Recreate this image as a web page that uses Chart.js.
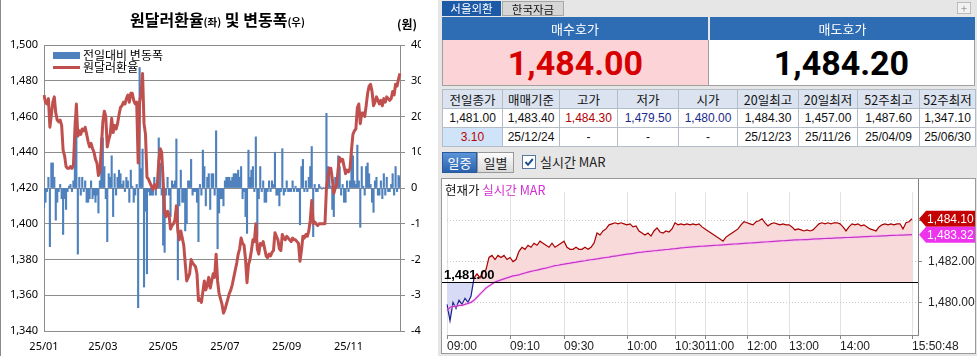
<!DOCTYPE html>
<html><head><meta charset="utf-8">
<script src="https://cdn.jsdelivr.net/npm/chart.js@4.4.1/dist/chart.umd.min.js"></script>
<style>
*{box-sizing:border-box}
body{margin:0;width:977px;height:356px;overflow:hidden;background:#fff;position:relative;font-family:'Noto Sans CJK KR','Noto Sans',sans-serif;color:#000}
.a{position:absolute}
#left{left:0;top:0;width:421px;height:356px;overflow:hidden;border-left:1px solid #8a8a8a}
#c1{position:absolute;left:-1px;top:0}
#rp{left:438px;top:0;width:539px;height:356px;background:#e6e6e6}
.tab{top:1px;height:15px;font-size:11.5px;line-height:15px;text-align:center}
.hd{top:17px;height:23px;background:#2e6cb4;color:#fff;font-size:13px;line-height:23px;text-align:center}
.pc{top:40px;height:46px;font-family:Roboto,'Liberation Sans',sans-serif;font-weight:bold;font-size:34px;line-height:46px;text-align:center;border:1px solid #a0a0a0;border-top:none}
table{border-collapse:collapse;table-layout:fixed;position:absolute;left:442px;top:89px;width:533px;background:#fff}
td{border:1px solid #b4bcc8;height:19px;padding:0;text-align:center;font-size:12px;line-height:17px;white-space:nowrap;overflow:hidden;font-family:'Liberation Sans','Noto Sans CJK KR',sans-serif;color:#111}
tr.h td{background:#dae3ef;font-family:'Noto Sans CJK KR',sans-serif;font-size:12.5px}
.btn{top:152px;height:21px;font-size:13px;line-height:20px;text-align:center}
</style></head><body>
<div id="left" class="a">
  <canvas id="c1" width="440" height="356"></canvas>
  <div class="a" style="left:129px;top:8px;font-size:16px;font-weight:bold;white-space:nowrap;line-height:22px">원달러환율<span style="font-size:10.5px">(좌)</span> 및 변동폭<span style="font-size:10.5px">(우)</span></div>
  <div class="a" style="left:396px;top:16px;font-size:12px;font-weight:bold;line-height:16px">(원)</div>
  <div class="a" style="left:52px;top:52px;width:27px;height:7px;background:#4f81bd"></div>
  <div class="a" style="left:82px;top:47px;font-size:12px;line-height:16px;white-space:nowrap">전일대비 변동폭</div>
  <div class="a" style="left:52px;top:66px;width:27px;height:3px;background:#c0504d"></div>
  <div class="a" style="left:82px;top:59px;font-size:12px;line-height:16px;white-space:nowrap">원달러환율</div>
</div>

<div id="rp" class="a"></div>
<div class="a tab" style="left:442px;width:59px;background:#1c5aa8;color:#fff">서울외환</div>
<div class="a tab" style="left:502px;width:62px;background:#d6d6d6;border:1px solid #a8a8a8;color:#111">한국자금</div>
<div class="a" style="left:957px;top:2px;width:14px;height:12px;border:1px solid #bbb;background:#f2f2f2;color:#999;font-size:11px;line-height:10px;text-align:center">+</div>
<div class="a hd" style="left:442px;width:266px">매수호가</div>
<div class="a hd" style="left:710px;width:265px">매도호가</div>
<div class="a pc" id="bid" style="left:442px;width:267px;background:#fcd3d6;color:#d60000"></div>
<div class="a pc" id="ask" style="left:708px;width:267px;background:#fff;color:#000"></div>
<table id="tbl">
<colgroup><col style="width:60px"><col style="width:57px"><col style="width:58px"><col style="width:61px"><col style="width:59px"><col style="width:61px"><col style="width:59px"><col style="width:62px"><col style="width:56px"></colgroup>
<tr class="h" id="thead"></tr>
<tr id="tval"></tr>
<tr id="tdate"></tr>
</table>
<div class="a btn" style="left:442px;width:35px;background:linear-gradient(#5b94d8,#2a62ae);color:#fff;border:1px solid #2a5a9a">일중</div>
<div class="a btn" style="left:477px;width:37px;background:linear-gradient(#fdfdfd,#d9d9d9);color:#222;border:1px solid #999">일별</div>
<div class="a" style="left:522px;top:155px;width:14px;height:14px;background:#fff;border:1px solid #56789e">
  <svg width="12" height="12" style="position:absolute;left:0;top:0"><path d="M2.5 6 L5 8.8 L9.8 3" stroke="#1f4f8f" stroke-width="2" fill="none"/></svg>
</div>
<div class="a" style="left:540px;top:152px;font-size:13px;line-height:20px;color:#222;white-space:nowrap">실시간 MAR</div>
<div class="a" style="left:441px;top:178px;width:535px;height:176px;background:#fff;border:1px solid #9a9a9a"></div>
<canvas id="c2" class="a" style="left:442px;top:179px" width="533" height="174"></canvas>
<div class="a" style="left:445px;top:181px;font-size:12.5px;line-height:17px;white-space:nowrap"><span style="color:#111">현재가</span> <span style="color:#d030d0">실시간 MAR</span></div>

<script>
// ---------- left chart data ----------
const leftTickIdx = [0, 40, 81, 123, 165, 207];
const leftTickText = ['25/01', '25/03', '25/05', '25/07', '25/09', '25/11'];
const rate = [
 1472,1468,1467,1470,1454,1461,1468,1471,1462,1458,
 1457,1458,1455,1441,1438,1432,1431,1431,1432,1431,
 1433,1452,1467,1449,1452,1450,1453,1452,1454,1450,
 1446,1443,1445,1442,1440,1436,1434,1427,1429,1443,
 1457,1463,1460,1443,1447,1450,1459,1451,1455,1453,
 1456,1461,1465,1466,1468,1467,1470,1472,1468,1473,
 1473,1469,1467,1468,1434,1468,1473,1484,1456,1450,
 1426,1425,1423,1421,1419,1422,1420,1421,1435,1442,
 1440,1424,1406,1404,1407,1405,1397,1399,1400,1402,
 1410,1396,1391,1396,1392,1388,1378,1368,1370,1372,
 1380,1378,1377,1376,1372,1357,1358,1356,1362,1368,
 1363,1366,1370,1364,1368,1372,1370,1383,1368,1361,
 1358,1355,1350,1352,1355,1358,1361,1363,1366,1370,
 1374,1378,1383,1386,1392,1389,1388,1380,1367,1377,
 1380,1385,1391,1390,1400,1386,1383,1389,1388,1390,
 1386,1382,1381,1383,1382,1384,1385,1395,1393,1391,
 1386,1385,1394,1392,1391,1393,1392,1391,1390,1392,
 1391,1391,1390,1389,1379,1385,1393,1392,1394,1393,
 1396,1402,1413,1400,1401,1400,1399,1400,1400,1400,
 1400,1400,1420,1426,1431,1431,1425,1417,1420,1422,
 1431,1437,1435,1436,1432,1428,1430,1429,1431,1441,
 1450,1452,1453,1465,1467,1456,1462,1462,1460,1466,
 1473,1477,1478,1474,1466,1468,1471,1469,1467,1469,
 1466,1470,1468,1471,1470,1469,1470,1474,1472,1478,
 1477,1481,1484.1];
const chg = [
 -5.5,-4,-1,3,-16.4,7,7,3,-9,-4,
 -1,1,-3,-13,-3,-6,-1,0.5,1,-1,
 2,19,15,-18.5,3,-2,3,-1,2,-4,
 -4,-3,2,-3,-2,-4,-2,-7,2,14,
 14,6,-3,-15,4,3,9,-8,4,-2,
 3,5,4,1,2,-1,3,2,-4,5,
 0.5,-4,-2,1,-33.5,33.7,5.4,10.9,-27.7,-6.5,
 -24,-1,-2,-2,-2,3,-2,1,14,7,
 -2,-16,-18,-2,3,-2,-8,2,1,2,
 13.7,-25.7,-5,5,-4,-4,-12,-10,2,2,
 8,-2,-1,-1,-4,-15,1,-2,10.6,6,
 -5,3,4,-6,4,4,-2,16,-17,-7,
 -3,-3,-5,2,3,3,3,2,3,4,
 4,4,5,3,6,-3,-1,-8,-12.7,10.6,
 3,5,6,-1,14.3,-13.6,-3,6,-1,2,
 -4,-4,-1,2,-1,2,1,10,-2,-2,
 -5,-1,11,-2,-1,2,-1,-1,-1,2,
 -1,0.5,-1,-1,-10.3,6,8,-1,2,-1,
 3,6,11.6,-13.6,1,-1,-1,1,0.3,-0.3,
 0.2,-0.2,20.9,6,5,0.5,-6,-8,3,2,
 9,6,-2,1,-4,-4,2,-1,2,10,
 9,2,1,12,2,-11,6,0.5,-2,6,
 7,4,1,-4,-6.8,2,3,-2,-2,2,
 -3,4,-2,3,-1,-1,1,4,-2,6,
 -1,3.5,3.1];
const leftLabels = rate.map((_, i) => i);

// ---------- right panel data ----------
const bidPrice = 1484.00, askPrice = 1484.20;
const tableHeads = ['전일종가','매매기준','고가','저가','시가','20일최고','20일최저','52주최고','52주최저'];
const tableVals  = ['1,481.00','1,483.40','1,484.30','1,479.50','1,480.00','1,484.30','1,457.00','1,487.60','1,347.10'];
const tableDates = ['3.10','25/12/24','-','-','-','25/12/23','25/11/26','25/04/09','25/06/30'];
const valColors  = ['#111','#111','#b00000','#1a2a8a','#1a2a8a','#111','#111','#111','#111'];

const intraTickIdx = [0, 21, 39, 60, 76, 86, 100, 114, 131, 155];
const intraTickText = ['09:00','09:10','09:30','10:00','10:30','11:00','12:00','13:00','14:00','15:50:48'];
const prevClose = 1481.00, lastPrice = 1484.10, lastMar = 1483.32;
const price = [
 1479.9,1479.1,1480.0,1479.7,1480.1,1479.9,1480.2,1480.0,1480.3,1481.2,
 1481.4,1481.2,1481.5,1481.6,1482.2,1482.3,1482.1,1482.3,1482.2,1482.3,
 1482.1,1482.2,1482.0,1482.1,1482.5,1482.7,1482.6,1482.8,1482.7,1482.9,
 1482.8,1483.0,1482.9,1482.8,1482.7,1482.9,1482.7,1482.8,1482.9,1483.0,
 1482.7,1482.6,1482.6,1482.7,1482.6,1482.6,1482.7,1482.6,1482.7,1482.9,
 1483.4,1483.3,1483.5,1483.6,1483.8,1483.85,1483.9,1483.85,1483.9,1483.85,
 1483.8,1483.85,1483.7,1483.75,1483.5,1483.4,1483.3,1483.4,1483.25,1483.5,
 1483.65,1483.45,1483.4,1483.5,1483.45,1483.6,1483.9,1483.8,1483.85,1483.8,
 1483.85,1483.8,1483.85,1483.8,1483.85,1483.7,1483.6,1483.5,1483.4,1483.3,
 1483.2,1483.1,1483.0,1483.2,1483.3,1483.4,1483.5,1483.6,1483.8,1483.95,
 1483.9,1483.85,1483.8,1483.95,1484.0,1484.1,1483.9,1483.75,1483.85,1483.9,
 1483.85,1483.8,1483.85,1483.8,1483.8,1483.7,1483.55,1483.6,1483.55,1483.5,
 1483.55,1483.5,1483.55,1483.7,1483.85,1483.9,1483.85,1483.9,1483.85,1483.9,
 1483.9,1483.85,1483.7,1483.5,1483.7,1483.85,1483.8,1483.85,1483.75,1483.8,
 1483.7,1483.6,1483.55,1483.5,1483.7,1483.8,1483.85,1483.8,1483.85,1483.8,
 1483.85,1483.85,1483.6,1483.9,1483.95,1484.1];
const mar = [
 1479.6,1479.75,1479.8,1479.8,1479.85,1479.85,1479.9,1479.95,1480.0,1480.1,
 1480.25,1480.4,1480.55,1480.7,1480.8,1480.9,1481.0,1481.05,1481.1,1481.15,
 1481.2,1481.25,1481.3,1481.32,1481.35,1481.4,1481.44,1481.48,1481.52,1481.55,
 1481.58,1481.62,1481.65,1481.68,1481.72,1481.76,1481.8,1481.82,1481.85,1481.87,
 1481.9,1481.92,1481.95,1481.97,1482.0,1482.02,1482.04,1482.07,1482.09,1482.11,
 1482.13,1482.16,1482.18,1482.2,1482.22,1482.25,1482.27,1482.29,1482.32,1482.34,
 1482.36,1482.38,1482.4,1482.43,1482.45,1482.46,1482.48,1482.5,1482.51,1482.53,
 1482.54,1482.56,1482.57,1482.59,1482.6,1482.62,1482.63,1482.65,1482.67,1482.68,
 1482.7,1482.71,1482.72,1482.73,1482.74,1482.75,1482.76,1482.77,1482.78,1482.79,
 1482.8,1482.81,1482.82,1482.83,1482.84,1482.85,1482.86,1482.87,1482.88,1482.89,
 1482.9,1482.91,1482.92,1482.93,1482.94,1482.95,1482.96,1482.97,1482.98,1482.99,
 1483.0,1483.01,1483.02,1483.03,1483.04,1483.05,1483.06,1483.06,1483.07,1483.08,
 1483.08,1483.09,1483.1,1483.11,1483.11,1483.12,1483.13,1483.14,1483.14,1483.15,
 1483.16,1483.16,1483.17,1483.18,1483.18,1483.19,1483.2,1483.2,1483.21,1483.22,
 1483.22,1483.23,1483.24,1483.24,1483.25,1483.26,1483.26,1483.27,1483.28,1483.28,
 1483.29,1483.3,1483.3,1483.31,1483.31,1483.32];
const intraLabels = Array.from({length: 158}, (_, i) => i);

const fmt2 = v => v.toLocaleString('en-US', {minimumFractionDigits: 2, maximumFractionDigits: 2});

// ---------- fill HTML panel ----------
document.getElementById('bid').textContent = fmt2(bidPrice);
document.getElementById('ask').textContent = fmt2(askPrice);
document.getElementById('thead').innerHTML = tableHeads.map(t => `<td>${t}</td>`).join('');
document.getElementById('tval').innerHTML = tableVals.map((t, i) => `<td style="color:${valColors[i]}">${t}</td>`).join('');
document.getElementById('tdate').innerHTML = tableDates.map((t, i) => i === 0 ? `<td style="background:#cfe4f8;color:#c00000">${t}</td>` : `<td>${t}</td>`).join('');

// ---------- left chart ----------
const GRAY = '#8c8c8c';
new Chart(document.getElementById('c1'), {
  type: 'bar',
  data: { labels: leftLabels, datasets: [
    { type: 'line', label: '원달러환율', data: rate, yAxisID: 'y', borderColor: '#c0504d', borderWidth: 3, pointRadius: 0, order: 0, borderJoinStyle: 'round' },
    { type: 'bar', label: '전일대비 변동폭', data: chg, yAxisID: 'y1', backgroundColor: '#4f81bd', barPercentage: 1, categoryPercentage: 1, order: 1 }
  ]},
  options: {
    responsive: false, animation: false, devicePixelRatio: 1, events: [],
    layout: { padding: { top: 45, left: 0, right: 0, bottom: 0 } },
    plugins: { legend: { display: false }, tooltip: { enabled: false } },
    scales: {
      x: { offset: false, grid: { display: false, drawTicks: false }, border: { color: GRAY },
           ticks: { autoSkip: false, maxRotation: 0, padding: 9, font: { size: 11, family: 'Noto Sans' }, color: '#000',
                    callback: v => leftTickText[leftTickIdx.indexOf(v)] },
           afterBuildTicks: s => { s.ticks = leftTickIdx.map(v => ({ value: v })); },
           afterFit: s => { s.height = 25; } },
      y: { position: 'left', min: 1340, max: 1500,
           ticks: { stepSize: 20, padding: 6, font: { size: 11, family: 'Noto Sans' }, color: '#000', callback: v => v.toLocaleString('en-US') },
           grid: { color: GRAY, drawTicks: false }, border: { color: GRAY },
           afterFit: s => { s.width = 44; } },
      y1: { position: 'right', min: -40, max: 40,
            ticks: { stepSize: 10, padding: 6, font: { size: 11, family: 'Noto Sans' }, color: '#000' },
            grid: { drawOnChartArea: false, tickLength: 5, color: GRAY }, border: { color: GRAY },
            afterFit: s => { s.width = 40; } }
    }
  }
});

// ---------- intraday chart ----------
const refPlugin = {
  id: 'ref',
  afterDatasetsDraw(chart) {
    const { ctx, chartArea: a, scales: { y } } = chart;
    const py = Math.round(y.getPixelForValue(prevClose)) + 0.5;
    ctx.save();
    ctx.strokeStyle = '#000'; ctx.lineWidth = 1;
    ctx.beginPath(); ctx.moveTo(0, py); ctx.lineTo(a.right, py); ctx.stroke();
    ctx.strokeStyle = '#808080';
    ctx.beginPath(); ctx.moveTo(a.right + 0.5, 0); ctx.lineTo(a.right + 0.5, a.bottom); ctx.stroke();
    ctx.font = 'bold 13px "Liberation Sans"'; ctx.fillStyle = '#000'; ctx.textBaseline = 'bottom';
    ctx.fillText(fmt2(prevClose), 2, py - 1);
    ctx.restore();
  },
  afterDraw(chart) {
    const { ctx, chartArea: a, scales: { y } } = chart;
    ctx.save();
    [[lastPrice, '#c40000'], [lastMar, '#ee33ee']].forEach(([v, col]) => {
      const py = y.getPixelForValue(v);
      const x0 = a.right + 1, h = 16;
      ctx.fillStyle = col; ctx.beginPath();
      ctx.moveTo(x0, py); ctx.lineTo(x0 + 7, py - h / 2); ctx.lineTo(x0 + 57, py - h / 2);
      ctx.lineTo(x0 + 57, py + h / 2); ctx.lineTo(x0 + 7, py + h / 2); ctx.closePath(); ctx.fill();
      ctx.fillStyle = '#fff'; ctx.font = '12px "Liberation Sans"'; ctx.textBaseline = 'middle';
      ctx.fillText(fmt2(v), x0 + 8, py + 1);
    });
    ctx.restore();
  }
};
new Chart(document.getElementById('c2'), {
  type: 'line',
  data: { labels: intraLabels, datasets: [
    { data: price, borderColor: '#a80000', borderWidth: 1.2, pointRadius: 0, order: 3,
      segment: { borderColor: c => (c.p0.parsed.y < prevClose) ? '#1a1f8c' : '#a80000' },
      fill: { target: { value: prevClose }, above: '#f8dadb', below: '#d7dbf6' } },
    { data: mar, borderColor: 'rgba(255,175,255,0.45)', borderWidth: 3, pointRadius: 0, order: 2 },
    { data: mar, borderColor: '#c535c5', borderWidth: 1.2, pointRadius: 0, order: 1 }
  ]},
  options: {
    responsive: false, animation: false, devicePixelRatio: 1, events: [],
    layout: { padding: { left: 5, top: 2, right: 0, bottom: 0 } },
    plugins: { legend: { display: false }, tooltip: { enabled: false } },
    scales: {
      x: { offset: false, grid: { color: '#e2e2e2', tickLength: 4, tickColor: '#888' }, border: { color: '#8c8c8c' },
           ticks: { autoSkip: false, maxRotation: 0, align: 'start', padding: 0, font: { size: 12, family: 'Liberation Sans' }, color: '#222',
                    callback: v => intraTickText[intraTickIdx.indexOf(v)] },
           afterBuildTicks: s => { s.ticks = intraTickIdx.map(v => ({ value: v })); },
           afterFit: s => { s.height = 18; } },
      y: { position: 'right', min: 1478.4, max: 1485.4,
           grid: { color: '#c8c8c8', tickLength: 4, tickColor: '#888' }, border: { display: false, dash: [1, 2] },
           ticks: { padding: 6, font: { size: 12, family: 'Liberation Sans' }, color: '#222', callback: v => v === 1484 ? '' : fmt2(v) },
           afterBuildTicks: s => { s.ticks = [1480, 1482, 1484].map(v => ({ value: v })); },
           afterFit: s => { s.width = 57; } }
    }
  },
  plugins: [refPlugin]
});
</script>
</body></html>
